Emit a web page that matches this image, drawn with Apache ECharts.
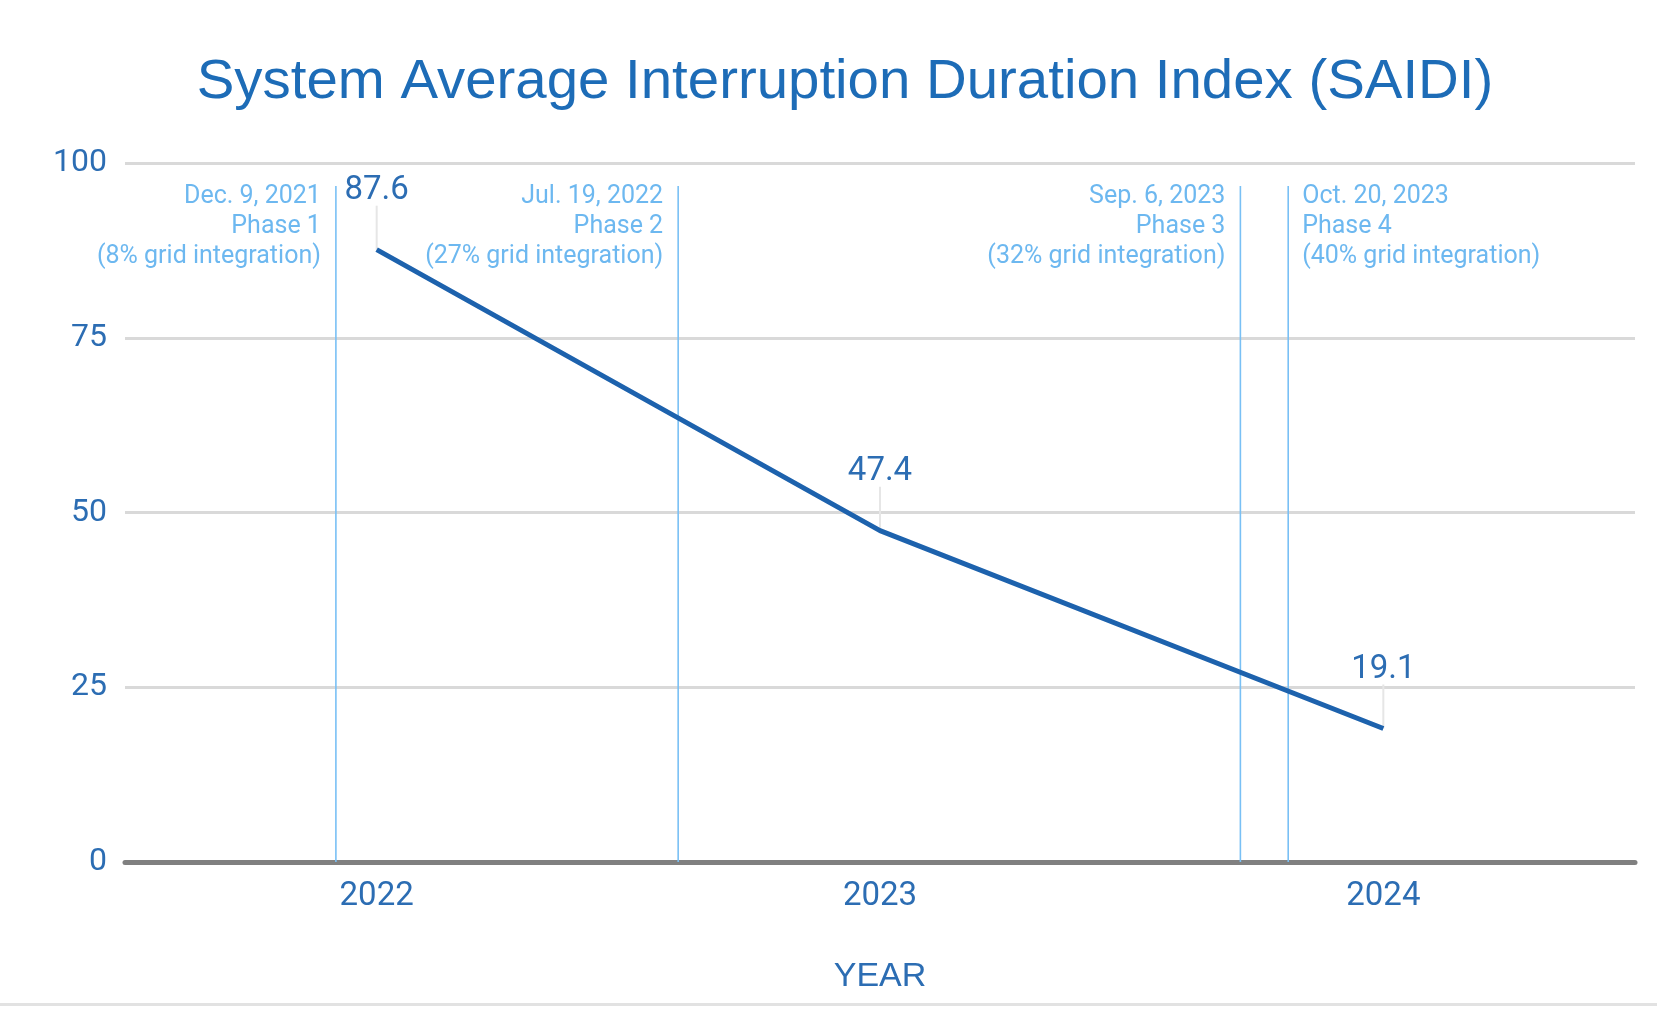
<!DOCTYPE html>
<html>
<head>
<meta charset="utf-8">
<script src="https://cdn.jsdelivr.net/npm/echarts@6/dist/echarts.min.js"></script>
<style>
  html, body { margin: 0; padding: 0; background: #ffffff; }
  #chart { width: 1657px; height: 1009px; }
</style>
</head>
<body>
<div id="chart"></div>
<script>
// ---- data ----
const years = [2022, 2023, 2024];
const saidi = [87.6, 47.4, 19.1];
const yTicks = [0, 25, 50, 75, 100];
// phase milestones, positioned in fractional years on the x axis
const phasePos = [2021.919, 2022.599, 2023.716, 2023.811];
const phaseDates = ['Dec. 9, 2021', 'Jul. 19, 2022', 'Sep. 6, 2023', 'Oct. 20, 2023'];
const phaseNames = ['Phase 1', 'Phase 2', 'Phase 3', 'Phase 4'];
const phaseShare = ['8%', '27%', '32%', '40%'];
const titleText = 'System Average Interruption Duration Index (SAIDI)';
const xAxisName = 'YEAR';

// ---- styles ----
const darkBlue = '#2c6db3';
const lineBlue = '#1d62ad';
const phaseBlue = '#79c0f5';
const phaseText = '#6db8f0';

const chart = echarts.init(document.getElementById('chart'), null, { renderer: 'canvas' });

const lineData = years.map((y, i) => [y, saidi[i]]);
const phaseData = phasePos.map((p, i) => [p, i]);

const option = {
  backgroundColor: '#ffffff',
  animation: false,
  title: {
    text: titleText,
    left: 840,
    textAlign: 'center',
    top: 49,
    textStyle: {
      fontFamily: 'Liberation Sans, Arial, sans-serif',
      fontSize: 56.4,
      fontWeight: 'normal',
      color: '#1d6cb7'
    }
  },
  grid: {
    left: 125,
    right: 22,
    top: 163,
    bottom: 147,
    outerBoundsMode: 'none'
  },
  xAxis: {
    type: 'value',
    min: 2021.5,
    max: 2024.5,
    interval: 0.5,
    splitLine: { show: false },
    axisTick: { show: false },
    axisLine: { show: true, lineStyle: { color: '#808080', width: 5 } },
    axisLabel: {
      margin: 18,
      fontFamily: 'Roboto, sans-serif',
      fontSize: 33,
      color: darkBlue,
      formatter: v => (Number.isInteger(v) && years.indexOf(v) >= 0) ? String(v) : ''
    },
    name: xAxisName,
    nameLocation: 'middle',
    nameGap: 98,
    nameTextStyle: {
      fontFamily: 'Liberation Sans, Arial, sans-serif',
      fontSize: 34,
      color: darkBlue
    }
  },
  yAxis: {
    type: 'value',
    min: yTicks[0],
    max: yTicks[yTicks.length - 1],
    interval: yTicks[1] - yTicks[0],
    axisLine: { show: false },
    axisTick: { show: false },
    splitLine: { show: true, lineStyle: { color: '#d9d9d9', width: 3 } },
    axisLabel: {
      margin: 18,
      fontFamily: 'Roboto, sans-serif',
      fontSize: 32,
      color: darkBlue,
      verticalAlign: 'middle',
      padding: [12, 0, 0, 0]
    }
  },
  graphic: [
    {
      type: 'rect',
      shape: { x: 0, y: 1003, width: 1657, height: 3 },
      style: { fill: '#e2e2e2' },
      silent: true
    }
  ],
  series: [
    {
      // phase milestone lines and annotations
      type: 'custom',
      coordinateSystem: 'cartesian2d',
      z: 1,
      silent: true,
      data: phaseData,
      encode: { x: 0, y: 1 },
      renderItem: function (params, api) {
        const i = api.value(1);
        const px = api.coord([api.value(0), 0]);
        const top = params.coordSys.y + 23;
        const leftSide = i !== phaseData.length - 1;
        const txt = phaseDates[i] + '\n' + phaseNames[i] + '\n(' + phaseShare[i] + ' grid integration)';
        return {
          type: 'group',
          children: [
            {
              type: 'line',
              shape: { x1: px[0], y1: top, x2: px[0], y2: px[1] },
              style: { stroke: phaseBlue, lineWidth: 1.6 }
            },
            {
              type: 'text',
              style: {
                text: txt,
                x: leftSide ? px[0] - 15 : px[0] + 14,
                y: top - 4,
                align: leftSide ? 'right' : 'left',
                verticalAlign: 'top',
                fill: phaseText,
                fontFamily: 'Roboto, sans-serif',
                fontSize: 25,
                lineHeight: 30
              }
            }
          ]
        };
      }
    },
    {
      // value labels with leader lines
      type: 'custom',
      coordinateSystem: 'cartesian2d',
      z: 2,
      silent: true,
      data: lineData,
      encode: { x: 0, y: 1 },
      renderItem: function (params, api) {
        const v = api.value(1);
        const p = api.coord([api.value(0), v]);
        return {
          type: 'group',
          children: [
            {
              type: 'line',
              shape: { x1: p[0], y1: p[1] - 44, x2: p[0], y2: p[1] },
              style: { stroke: '#e6e6e6', lineWidth: 2 }
            },
            {
              type: 'text',
              style: {
                text: String(v),
                x: p[0],
                y: p[1] - 59,
                align: 'center',
                verticalAlign: 'middle',
                fill: darkBlue,
                fontFamily: 'Roboto, sans-serif',
                fontSize: 33
              }
            }
          ]
        };
      }
    },
    {
      type: 'line',
      z: 3,
      data: lineData,
      showSymbol: false,
      symbol: 'none',
      lineStyle: { color: lineBlue, width: 5 },
      silent: true
    }
  ]
};

chart.setOption(option);
</script>
</body>
</html>
